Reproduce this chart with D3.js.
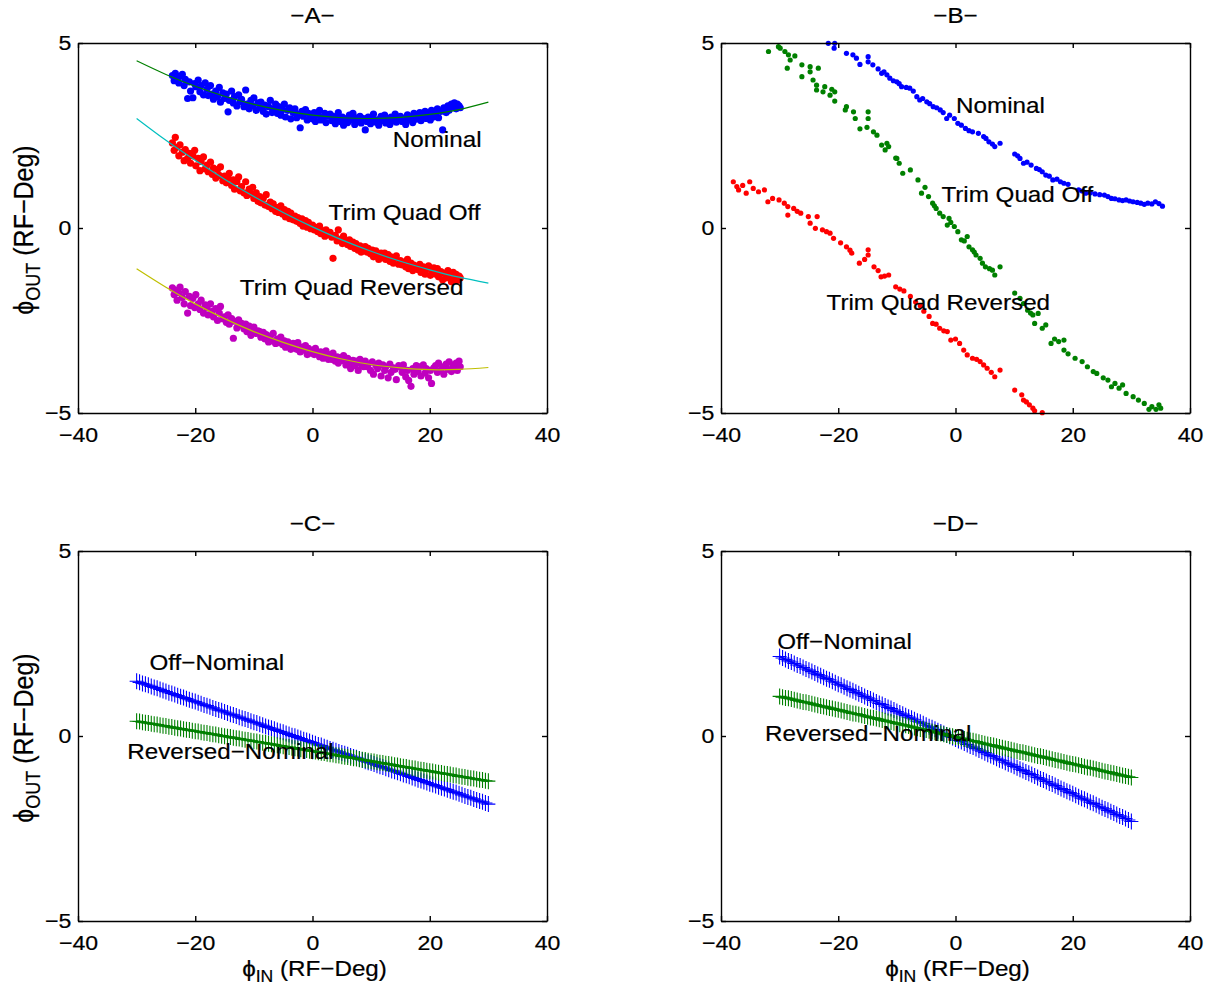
<!DOCTYPE html>
<html>
<head>
<meta charset="utf-8">
<script src="https://cdn.jsdelivr.net/npm/d3@7"></script>
<style>
  body { margin: 0; background: #fff; }
  svg { display: block; }
</style>
</head>
<body>
<svg id="chart" width="1213" height="993"></svg>
<script>
// ---------- data ----------
const xTicks = [-40, -20, 0, 20, 40];
const yTicks = [-5, 0, 5];
const panelTitles = ["\u2212A\u2212", "\u2212B\u2212", "\u2212C\u2212", "\u2212D\u2212"];
const seriesNamesAB = ["Nominal", "Trim Quad Off", "Trim Quad Reversed"];
const seriesNamesCD = ["Off\u2212Nominal", "Reversed\u2212Nominal"];

// panel A : measured phase points (shared input phase), one array per setting
const aX = [
  -23.9,-23.6,-23.4,-23.1,-22.8,-22.6,-22.2,-21.9,-21.7,-21.3,
  -21.0,-20.8,-20.4,-20.1,-19.9,-19.5,-19.2,-19.0,-18.6,-18.3,
  -18.0,-17.8,-17.4,-17.1,-16.9,-16.5,-16.2,-15.9,-15.7,-15.3,
  -15.0,-14.7,-14.4,-14.2,-13.8,-13.5,-13.3,-12.9,-12.6,-12.3,
  -12.1,-11.7,-11.4,-11.2,-10.8,-10.5,-10.2,-10.0,-9.6,-9.3,
  -9.0,-8.8,-8.4,-8.1,-7.9,-7.5,-7.2,-6.9,-6.7,-6.3,
  -6.0,-5.8,-5.4,-5.1,-4.8,-4.6,-4.2,-3.9,-3.7,-3.3,
  -3.0,-2.7,-2.5,-2.1,-1.8,-1.6,-1.2,-0.9,-0.7,-0.3,
  0.0,0.3,0.5,0.9,1.2,1.4,1.8,2.1,2.3,2.7,
  3.0,3.3,3.5,3.9,4.2,4.4,4.8,5.1,5.3,5.7,
  6.0,6.3,6.5,6.9,7.2,7.4,7.8,8.1,8.3,8.7,
  9.0,9.3,9.5,9.9,10.2,10.4,10.8,11.1,11.3,11.7,
  12.0,12.3,12.5,12.9,13.2,13.4,13.8,14.1,14.3,14.7,
  15.0,15.3,15.5,15.9,16.2,16.4,16.8,17.1,17.3,17.7,
  18.0,18.3,18.5,18.9,19.2,19.4,19.8,20.1,20.3,20.7,
  21.0,21.3,21.5,21.9,22.2,22.4,22.8,23.1,23.3,23.7,
  24.0,24.2,24.5,24.7,25.0,25.2
];
const aNominal = [
  4.12,3.98,4.18,4.05,3.92,4.10,4.15,3.85,4.02,3.50,
  3.95,3.70,3.52,3.90,3.82,4.00,3.68,3.85,3.60,3.92,
  3.75,3.58,3.85,3.62,3.48,3.70,3.55,3.80,3.40,3.65,
  3.50,3.62,3.14,3.45,3.70,3.38,3.55,3.30,3.60,3.42,
  3.48,3.28,3.73,3.35,3.22,3.45,3.30,3.52,3.18,3.38,
  3.25,3.40,3.15,3.32,3.08,3.28,3.45,3.12,3.22,3.35,
  3.10,3.28,3.05,3.20,3.35,3.00,3.18,3.25,2.95,3.12,
  3.22,2.98,3.08,2.71,3.15,3.02,3.20,2.92,3.10,3.05,
  2.95,3.12,2.88,3.05,3.18,2.92,3.00,3.10,2.85,3.02,
  3.08,2.90,3.02,2.82,2.98,3.12,2.88,3.00,2.78,2.95,
  2.85,3.05,2.92,3.10,2.80,2.98,2.90,3.02,2.84,2.96,
  2.65,2.88,3.00,2.82,2.95,3.08,2.86,2.92,2.78,3.02,
  2.90,3.05,2.84,2.96,2.80,3.00,2.92,3.08,2.86,2.98,
  3.02,2.88,2.95,2.80,3.06,2.92,3.00,2.85,3.10,2.94,
  2.98,3.12,2.90,3.05,3.15,2.96,3.08,2.92,3.18,3.00,
  3.10,3.22,2.98,3.15,2.65,3.25,3.12,3.30,3.18,3.35,
  3.28,3.38,3.22,3.35,3.30,3.25
];
const aTrimOff = [
  2.30,2.10,2.45,2.18,1.95,2.25,2.05,1.82,2.12,1.88,
  2.02,1.75,1.95,2.10,1.68,1.88,1.55,1.80,1.92,1.60,
  1.70,1.52,1.78,1.45,1.62,1.35,1.58,1.42,1.65,1.28,
  1.40,1.22,1.35,1.48,1.15,1.30,1.05,1.25,1.38,1.00,
  1.12,0.95,1.25,0.88,1.05,0.92,1.10,0.80,0.95,0.72,
  0.85,0.68,0.80,0.62,0.90,0.58,0.70,0.52,0.65,0.45,
  0.55,0.42,0.60,0.38,0.50,0.30,0.45,0.25,0.40,0.22,
  0.32,0.18,0.28,0.12,0.25,0.05,0.20,0.02,0.15,-0.02,
  0.08,-0.05,0.02,-0.10,0.05,-0.15,-0.08,-0.22,-0.05,-0.18,
  -0.12,-0.25,-0.82,-0.20,-0.35,-0.05,-0.30,-0.42,-0.22,-0.38,
  -0.45,-0.32,-0.50,-0.38,-0.55,-0.42,-0.60,-0.48,-0.65,-0.52,
  -0.50,-0.65,-0.55,-0.70,-0.60,-0.78,-0.62,-0.72,-0.85,-0.68,
  -0.80,-0.68,-0.85,-0.72,-0.90,-0.78,-0.95,-0.82,-0.75,-0.98,
  -0.88,-1.00,-0.92,-1.05,-0.85,-1.10,-0.95,-1.15,-1.00,-1.08,
  -1.12,-0.98,-1.20,-1.05,-1.25,-1.10,-1.02,-1.28,-1.15,-1.08,
  -1.25,-1.10,-1.32,-1.18,-1.40,-1.22,-1.35,-1.15,-1.30,-1.45,
  -1.20,-1.38,-1.25,-1.42,-1.30,-1.35
];
const aTrimRev = [
  -1.62,-1.80,-1.68,-1.95,-1.75,-1.60,-1.88,-2.05,-1.72,-2.30,
  -1.85,-2.10,-1.90,-2.15,-1.80,-2.05,-2.20,-1.95,-2.30,-2.08,
  -2.15,-2.35,-2.05,-2.25,-2.40,-2.18,-2.50,-2.30,-2.12,-2.45,
  -2.40,-2.55,-2.35,-2.60,-2.45,-2.98,-2.52,-2.70,-2.48,-2.62,
  -2.58,-2.72,-2.60,-2.80,-2.65,-2.90,-2.75,-2.68,-2.85,-2.78,
  -2.80,-2.95,-2.82,-3.00,-2.88,-3.08,-2.92,-3.05,-2.85,-3.12,
  -3.00,-3.10,-2.95,-3.15,-3.05,-3.22,-3.08,-3.18,-3.28,-3.12,
  -3.15,-3.28,-3.10,-3.35,-3.22,-3.30,-3.18,-3.42,-3.25,-3.38,
  -3.30,-3.42,-3.25,-3.38,-3.48,-3.35,-3.52,-3.40,-3.32,-3.55,
  -3.42,-3.55,-3.38,-3.60,-3.48,-3.65,-3.50,-3.58,-3.45,-3.70,
  -3.52,-3.65,-3.80,-3.58,-3.72,-3.60,-3.85,-3.55,-3.68,-3.75,
  -3.60,-3.75,-3.68,-3.85,-3.62,-3.95,-3.70,-3.80,-3.65,-4.00,
  -3.70,-3.85,-3.75,-4.05,-3.68,-3.90,-3.78,-3.82,-4.10,-3.72,
  -3.75,-3.90,-3.70,-4.02,-3.85,-4.12,-4.28,-3.80,-3.95,-3.72,
  -3.88,-3.75,-4.00,-3.70,-3.92,-3.80,-4.05,-3.85,-4.20,-3.78,
  -3.72,-3.90,-3.65,-3.85,-3.75,-3.95,-3.68,-3.82,-3.62,-3.88,
  -3.70,-3.80,-3.65,-3.85,-3.60,-3.75
];

// panel A : quadratic fits
const fitX = [-30, -25, -20, -15, -10, -5, 0, 5, 10, 15, 20, 25, 30];
const aNominalFit = [4.52, 4.15, 3.83, 3.56, 3.34, 3.17, 3.05, 2.98, 2.96, 2.99, 3.07, 3.20, 3.40];
const aTrimOffFit = [2.96, 2.37, 1.83, 1.32, 0.85, 0.42, 0.03, -0.32, -0.63, -0.90, -1.13, -1.33, -1.49];
const aTrimRevFit = [-1.10, -1.60, -2.05, -2.45, -2.80, -3.09, -3.34, -3.54, -3.69, -3.78, -3.83, -3.82, -3.77];

// panel B : [phi_in, phi_out]
const bNominal = [
  [-21.7,4.99],[-20.6,4.99],[-20.7,4.86],[-18.6,4.72],[-17.5,4.68],[-16.9,4.59],[-16.3,4.42],
  [-14.9,4.63],[-14.9,4.49],[-14.1,4.41],[-13.2,4.30],[-12.6,4.18],[-12.2,4.22],[-11.7,4.14],
  [-11.2,4.05],[-10.6,3.98],[-10.0,3.95],[-9.6,3.90],[-9.2,3.82],[-8.4,3.80],[-7.8,3.78],
  [-7.2,3.70],[-6.6,3.55],[-6.1,3.46],[-5.6,3.50],[-4.9,3.41],[-4.4,3.36],[-3.8,3.28],
  [-3.2,3.25],[-2.6,3.19],[-2.1,3.12],[-1.5,2.96],[-1.0,3.05],[-0.2,2.96],[0.4,2.83],
  [1.0,2.78],[1.7,2.69],[2.3,2.63],[2.9,2.60],[3.9,2.56],[4.8,2.47],[5.2,2.42],[5.7,2.33],
  [6.3,2.27],[6.7,2.20],[7.6,2.29],
  [10.1,2.00],[10.6,1.95],[11.0,1.88],[11.6,1.75],[12.2,1.78],[12.9,1.70],[13.8,1.61],
  [14.3,1.58],[14.8,1.52],[15.4,1.43],[16.0,1.40],[16.6,1.30],[17.3,1.32],[17.9,1.25],
  [18.5,1.21],[19.2,1.18],[21.0,1.03],[21.6,1.00],[22.2,0.94],[23.0,0.95],[23.8,0.92],
  [24.6,0.90],[25.4,0.89],[26.0,0.85],[26.6,0.80],[27.2,0.79],[27.9,0.76],[28.5,0.74],
  [29.1,0.76],[29.7,0.73],[30.3,0.71],[31.0,0.69],[31.6,0.67],[32.2,0.64],[32.8,0.67],
  [33.5,0.65],[34.1,0.71],[34.7,0.66],[35.3,0.59]
];
const bTrimOff = [
  [-31.9,4.77],[-30.2,4.90],[-29.9,4.86],[-29.1,4.77],[-28.5,4.68],[-27.4,4.65],[-28.7,4.32],
  [-28.2,4.54],[-26.2,4.41],[-26.2,4.09],[-24.8,4.36],[-24.8,4.22],[-23.4,4.32],[-24.3,4.00],
  [-23.7,3.86],[-23.7,3.73],[-22.3,3.82],[-22.6,3.68],[-21.1,3.75],[-21.4,3.59],[-20.6,3.68],
  [-20.6,3.43],[-18.6,3.28],[-18.8,3.19],[-17.4,3.14],[-17.1,2.96],[-14.9,3.14],[-14.9,2.96],
  [-16.3,2.68],[-15.1,2.72],[-14.0,2.60],[-13.4,2.51],[-12.6,2.24],[-11.7,2.29],[-12.0,2.11],
  [-11.4,2.20],[-10.0,1.88],[-10.2,1.89],[-9.6,1.75],[-9.0,1.48],[-7.7,1.57],[-6.4,1.30],
  [-5.2,1.10],[-5.8,0.94],[-4.6,0.85],[-3.9,0.67],[-3.6,0.60],[-3.3,0.53],[-2.7,0.40],
  [-2.1,0.31],[-1.1,0.26],[-1.4,0.08],[-0.8,0.15],[-0.2,0.04],[0.4,-0.10],[1.0,-0.32],
  [1.5,-0.35],[2.0,-0.23],[2.3,-0.51],[2.9,-0.59],[3.2,-0.65],[3.5,-0.73],[4.2,-0.82],
  [4.6,-0.95],[5.1,-1.05],[5.8,-1.10],[6.3,-1.14],[6.7,-1.27],[7.6,-1.05],
  [10.1,-1.76],[11.0,-1.90],[11.6,-2.04],[12.3,-2.22],[12.8,-2.30],[13.2,-2.35],[14.1,-2.31],
  [13.5,-2.58],[14.8,-2.71],[15.4,-2.62],[16.3,-3.12],[16.9,-3.00],[17.6,-3.07],[18.5,-3.03],
  [18.5,-3.30],[19.2,-3.40],[20.4,-3.52],[21.6,-3.61],[22.5,-3.75],[23.5,-3.88],[24.1,-3.93],
  [25.2,-4.05],[26.0,-4.11],[26.6,-4.29],[27.2,-4.20],[27.9,-4.33],[28.5,-4.24],[29.1,-4.47],
  [30.3,-4.56],[31.2,-4.65],[32.2,-4.74],[33.0,-4.90],[33.5,-4.83],[34.2,-4.90],[34.7,-4.78],
  [35.0,-4.87]
];
const bTrimRev = [
  [-37.9,1.25],[-37.3,1.12],[-37.0,1.03],[-36.3,1.15],[-35.7,0.94],[-35.1,1.25],[-34.5,1.07],
  [-33.6,0.98],[-32.6,1.03],[-32.0,0.71],[-31.2,0.80],[-30.1,0.76],[-29.2,0.67],[-28.6,0.58],
  [-27.6,0.53],[-28.6,0.35],[-27.0,0.45],[-26.4,0.40],[-25.1,0.31],[-24.8,0.13],[-23.6,0.31],
  [-23.9,-0.01],[-22.7,-0.05],[-22.0,-0.10],[-21.4,-0.14],[-20.8,-0.28],[-19.6,-0.40],
  [-18.6,-0.51],[-18.0,-0.60],[-17.7,-0.68],[-16.4,-0.95],[-15.5,-0.85],[-14.9,-0.59],
  [-14.9,-0.73],[-13.9,-1.05],[-13.2,-1.15],[-12.7,-1.32],[-12.1,-1.30],[-11.4,-1.27],
  [-10.2,-1.59],[-9.5,-1.65],[-8.8,-1.70],[-7.7,-1.85],[-6.8,-2.00],[-6.0,-2.10],[-5.4,-2.25],
  [-4.5,-2.39],[-3.9,-2.58],[-3.3,-2.60],[-2.7,-2.71],[-2.0,-2.78],[-1.4,-2.80],[-0.8,-3.03],
  [0.0,-3.00],[0.7,-3.12],[1.4,-3.30],[2.0,-3.43],[2.9,-3.52],[3.6,-3.55],[4.2,-3.61],
  [4.8,-3.70],[5.4,-3.79],[6.1,-3.90],[6.7,-4.02],[7.6,-3.84],
  [10.1,-4.38],[11.3,-4.51],[11.6,-4.65],[12.1,-4.70],[12.6,-4.78],[13.2,-4.87],[13.5,-4.94],
  [14.8,-4.99]
];

// panels C and D : difference curves sampled every half degree
const lineX = [
  -30,-29.5,-29,-28.5,-28,-27.5,-27,-26.5,-26,-25.5,-25,-24.5,-24,-23.5,-23,-22.5,-22,-21.5,-21,-20.5,
  -20,-19.5,-19,-18.5,-18,-17.5,-17,-16.5,-16,-15.5,-15,-14.5,-14,-13.5,-13,-12.5,-12,-11.5,-11,-10.5,
  -10,-9.5,-9,-8.5,-8,-7.5,-7,-6.5,-6,-5.5,-5,-4.5,-4,-3.5,-3,-2.5,-2,-1.5,-1,-0.5,
  0,0.5,1,1.5,2,2.5,3,3.5,4,4.5,5,5.5,6,6.5,7,7.5,8,8.5,9,9.5,
  10,10.5,11,11.5,12,12.5,13,13.5,14,14.5,15,15.5,16,16.5,17,17.5,18,18.5,19,19.5,
  20,20.5,21,21.5,22,22.5,23,23.5,24,24.5,25,25.5,26,26.5,27,27.5,28,28.5,29,29.5,30
];
const cOffNominal = [
  1.48,1.45,1.42,1.40,1.37,1.34,1.31,1.29,1.26,1.23,1.20,1.17,1.15,1.12,1.09,1.06,1.04,1.01,0.98,0.95,
  0.93,0.90,0.87,0.84,0.82,0.79,0.76,0.73,0.70,0.68,0.65,0.62,0.59,0.57,0.54,0.51,0.48,0.46,0.43,0.40,
  0.37,0.35,0.32,0.29,0.26,0.23,0.21,0.18,0.15,0.12,0.10,0.07,0.04,0.01,-0.01,-0.04,-0.07,-0.10,-0.12,-0.15,
  -0.18,-0.21,-0.24,-0.26,-0.29,-0.32,-0.35,-0.37,-0.40,-0.43,-0.46,-0.48,-0.51,-0.54,-0.57,-0.59,-0.62,-0.65,-0.68,-0.71,
  -0.73,-0.76,-0.79,-0.82,-0.84,-0.87,-0.90,-0.93,-0.95,-0.98,-1.01,-1.04,-1.06,-1.09,-1.12,-1.15,-1.18,-1.20,-1.23,-1.26,
  -1.29,-1.31,-1.34,-1.37,-1.40,-1.42,-1.45,-1.48,-1.51,-1.53,-1.56,-1.59,-1.62,-1.65,-1.67,-1.70,-1.73,-1.76,-1.78,-1.81,-1.84
];
const cRevNominal = [
  0.40,0.39,0.37,0.36,0.35,0.33,0.32,0.31,0.29,0.28,0.27,0.25,0.24,0.22,0.21,0.20,0.18,0.17,0.16,0.14,
  0.13,0.12,0.10,0.09,0.08,0.06,0.05,0.04,0.02,0.01,-0.01,-0.02,-0.03,-0.05,-0.06,-0.07,-0.09,-0.10,-0.11,-0.13,
  -0.14,-0.15,-0.17,-0.18,-0.19,-0.21,-0.22,-0.23,-0.25,-0.26,-0.28,-0.29,-0.30,-0.32,-0.33,-0.34,-0.36,-0.37,-0.38,-0.40,
  -0.41,-0.42,-0.44,-0.45,-0.46,-0.48,-0.49,-0.50,-0.52,-0.53,-0.55,-0.56,-0.57,-0.59,-0.60,-0.61,-0.63,-0.64,-0.65,-0.67,
  -0.68,-0.69,-0.71,-0.72,-0.73,-0.75,-0.76,-0.77,-0.79,-0.80,-0.82,-0.83,-0.84,-0.86,-0.87,-0.88,-0.90,-0.91,-0.92,-0.94,
  -0.95,-0.96,-0.98,-0.99,-1.00,-1.02,-1.03,-1.04,-1.06,-1.07,-1.09,-1.10,-1.11,-1.13,-1.14,-1.15,-1.17,-1.18,-1.19,-1.21,-1.22
];
const dOffNominal = [
  2.15,2.11,2.07,2.03,2.00,1.96,1.92,1.89,1.85,1.81,1.78,1.74,1.70,1.66,1.63,1.59,1.55,1.52,1.48,1.44,
  1.40,1.37,1.33,1.29,1.26,1.22,1.18,1.14,1.11,1.07,1.03,1.00,0.96,0.92,0.88,0.85,0.81,0.77,0.74,0.70,
  0.66,0.62,0.59,0.55,0.51,0.48,0.44,0.40,0.37,0.33,0.29,0.25,0.22,0.18,0.14,0.11,0.07,0.03,-0.01,-0.04,
  -0.08,-0.12,-0.15,-0.19,-0.23,-0.27,-0.30,-0.34,-0.38,-0.41,-0.45,-0.49,-0.53,-0.56,-0.60,-0.64,-0.67,-0.71,-0.75,-0.78,
  -0.82,-0.86,-0.90,-0.93,-0.97,-1.01,-1.04,-1.08,-1.12,-1.16,-1.19,-1.23,-1.27,-1.30,-1.34,-1.38,-1.42,-1.45,-1.49,-1.53,
  -1.56,-1.60,-1.64,-1.68,-1.71,-1.75,-1.79,-1.82,-1.86,-1.90,-1.94,-1.97,-2.01,-2.05,-2.08,-2.12,-2.16,-2.19,-2.23,-2.27,-2.31
];
const dRevNominal = [
  1.07,1.05,1.03,1.02,1.00,0.98,0.96,0.94,0.92,0.91,0.89,0.87,0.85,0.83,0.81,0.80,0.78,0.76,0.74,0.72,
  0.71,0.69,0.67,0.65,0.63,0.61,0.60,0.58,0.56,0.54,0.52,0.50,0.49,0.47,0.45,0.43,0.41,0.39,0.38,0.36,
  0.34,0.32,0.30,0.29,0.27,0.25,0.23,0.21,0.19,0.18,0.16,0.14,0.12,0.10,0.08,0.07,0.05,0.03,0.01,-0.01,
  -0.03,-0.04,-0.06,-0.08,-0.10,-0.12,-0.13,-0.15,-0.17,-0.19,-0.21,-0.23,-0.24,-0.26,-0.28,-0.30,-0.32,-0.34,-0.35,-0.37,
  -0.39,-0.41,-0.43,-0.44,-0.46,-0.48,-0.50,-0.52,-0.54,-0.55,-0.57,-0.59,-0.61,-0.63,-0.65,-0.66,-0.68,-0.70,-0.72,-0.74,
  -0.76,-0.77,-0.79,-0.81,-0.83,-0.85,-0.86,-0.88,-0.90,-0.92,-0.94,-0.96,-0.97,-0.99,-1.01,-1.03,-1.05,-1.07,-1.08,-1.10,-1.12
];

// ---------- layout ----------
const boxW = 469, boxH = 370;
const colLeft = [78, 721];
const rowTop = [43, 551];
const stretch = 1.1;             // the original figure is a bit wider than tall
const font = '"Liberation Sans", Arial, Helvetica, sans-serif';
const textSize = 22, tickSize = 21;
const blue = "#0000ff", red = "#ff0000", green = "#008000", magenta = "#bf00bf";
const cyan = "#00bfbf", olive = "#bfbf00";

const svg = d3.select("#chart");
svg.append("rect").attr("width", 1213).attr("height", 993).attr("fill", "#fff");

const x = d3.scaleLinear().domain([-40, 40]).range([0, boxW]);
const y = d3.scaleLinear().domain([-5, 5]).range([boxH, 0]);

// a thin outline makes the text as dark as the anti-aliased original
function inkText(sel) {
  sel.attr("fill", "#000").attr("stroke", "#000").attr("stroke-width", 0.2);
}

function addText(g, px, py, str, size, anchor) {
  return g.append("text")
    .attr("transform", `translate(${px},${py}) scale(${stretch},1)`)
    .attr("font-family", font)
    .attr("font-size", size)
    .attr("text-anchor", anchor || "start")
    .call(inkText)
    .text(str);
}

function drawAxes(g) {
  const bottom = g.append("g").attr("transform", `translate(0,${boxH})`)
    .call(d3.axisBottom(x).tickValues(xTicks).tickSizeInner(-5).tickSizeOuter(0)
      .tickPadding(14).tickFormat(d3.format("d")));
  const top = g.append("g")
    .call(d3.axisTop(x).tickValues(xTicks).tickSizeInner(-5).tickSizeOuter(0).tickFormat(""));
  const left = g.append("g")
    .call(d3.axisLeft(y).tickValues(yTicks).tickSizeInner(-5).tickSizeOuter(0)
      .tickPadding(6).tickFormat(d3.format("d")));
  const right = g.append("g").attr("transform", `translate(${boxW},0)`)
    .call(d3.axisRight(y).tickValues(yTicks).tickSizeInner(-5).tickSizeOuter(0).tickFormat(""));

  [bottom, top, left, right].forEach(a => {
    a.attr("font-family", font).attr("font-size", tickSize);
    a.selectAll("path, line").attr("stroke", "#000").attr("stroke-width", 1.4);
    a.selectAll("text").call(inkText).attr("transform", `scale(${stretch},1)`);
  });
}

function panel(col, row, title) {
  const g = svg.append("g")
    .attr("transform", `translate(${colLeft[col]},${rowTop[row]})`);
  addText(g, boxW / 2, -20, title, textSize, "middle");
  return g;
}

function drawDots(g, pts, color, r) {
  g.append("g").selectAll("circle")
    .data(pts)
    .join("circle")
    .attr("cx", d => x(d[0]))
    .attr("cy", d => y(d[1]))
    .attr("r", r)
    .attr("fill", color);
}

function drawFit(g, xs, ys, color) {
  const line = d3.line().x(d => x(d[0])).y(d => y(d[1])).curve(d3.curveNatural);
  g.append("path")
    .attr("d", line(d3.zip(xs, ys)))
    .attr("fill", "none")
    .attr("stroke", color)
    .attr("stroke-width", 1.2);
}

function drawPlus(g, xs, ys, color) {
  const pts = d3.zip(xs, ys);
  const line = d3.line().x(d => x(d[0])).y(d => y(d[1]));
  g.append("path")
    .attr("d", line(pts))
    .attr("fill", "none")
    .attr("stroke", color)
    .attr("stroke-width", 2);
  g.append("g").selectAll("path")
    .data(pts)
    .join("path")
    .attr("transform", d => `translate(${x(d[0])},${y(d[1])})`)
    .attr("d", "M-7,0H7M0,-8V8")
    .attr("fill", "none")
    .attr("stroke", color)
    .attr("stroke-width", 1.1);
}

function yLabel(g) {
  const t = g.append("text")
    .attr("transform", `translate(-45,${boxH / 2 + 2}) rotate(-90) scale(1,${stretch})`)
    .attr("font-family", font)
    .attr("font-size", 25)
    .attr("text-anchor", "middle")
    .call(inkText);
  t.append("tspan").text("\u03d5");
  t.append("tspan").attr("font-size", 18).attr("dy", 6).text("OUT");
  t.append("tspan").attr("dy", -6).text(" (RF\u2212Deg)");
}

function xLabel(g) {
  const t = g.append("text")
    .attr("transform", `translate(${boxW / 2 + 2},${boxH + 55}) scale(${stretch},1)`)
    .attr("font-family", font)
    .attr("font-size", textSize)
    .attr("text-anchor", "middle")
    .call(inkText);
  t.append("tspan").text("\u03d5");
  t.append("tspan").attr("font-size", 16).attr("dy", 6).text("IN");
  t.append("tspan").attr("dy", -6).text(" (RF\u2212Deg)");
}

function labels(g, names, spots) {
  names.forEach((name, i) => addText(g, x(spots[i][0]), y(spots[i][1]), name, textSize));
}

// ---------- panel A ----------
const gA = panel(0, 0, panelTitles[0]);
drawDots(gA, d3.zip(aX, aNominal), blue, 3.6);
drawDots(gA, d3.zip(aX, aTrimOff), red, 3.6);
drawDots(gA, d3.zip(aX, aTrimRev), magenta, 3.6);
drawFit(gA, fitX, aNominalFit, green);
drawFit(gA, fitX, aTrimOffFit, cyan);
drawFit(gA, fitX, aTrimRevFit, olive);
drawAxes(gA);
yLabel(gA);
labels(gA, seriesNamesAB, [[13.7, 2.2], [2.75, 0.22], [-12.4, -1.81]]);

// ---------- panel B ----------
const gB = panel(1, 0, panelTitles[1]);
drawDots(gB, bNominal, blue, 2.6);
drawDots(gB, bTrimOff, green, 2.6);
drawDots(gB, bTrimRev, red, 2.6);
drawAxes(gB);
labels(gB, seriesNamesAB, [[0.1, 3.12], [-2.4, 0.71], [-22.0, -2.22]]);

// ---------- panel C ----------
const gC = panel(0, 1, panelTitles[2]);
drawPlus(gC, lineX, cOffNominal, blue);
drawPlus(gC, lineX, cRevNominal, green);
drawAxes(gC);
yLabel(gC);
xLabel(gC);
labels(gC, seriesNamesCD, [[-27.8, 1.79], [-31.6, -0.61]]);

// ---------- panel D ----------
const gD = panel(1, 1, panelTitles[3]);
drawPlus(gD, lineX, dOffNominal, blue);
drawPlus(gD, lineX, dRevNominal, green);
drawAxes(gD);
xLabel(gD);
labels(gD, seriesNamesCD, [[-30.4, 2.36], [-32.5, -0.14]]);
</script>
</body>
</html>
